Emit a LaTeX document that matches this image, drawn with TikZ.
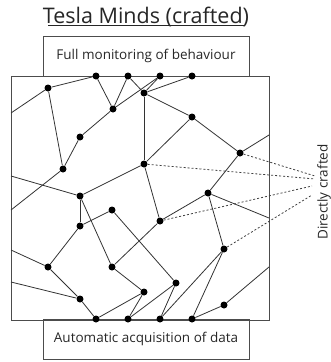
\documentclass[tikz,border=0pt]{standalone}
\usepackage{fontspec}
\setmainfont{Open Sans}
\begin{document}
\begin{tikzpicture}[x=1pt,y=-1pt,
  dot/.style={circle,fill=black,inner sep=0pt,minimum size=7pt},
  edge/.style={draw=black!80,line width=0.8pt},
  frame/.style={draw=black!70,line width=1pt},
  crafted/.style={draw=black!75,line width=0.8pt,dash pattern=on 2pt off 2pt},
  lbl/.style={font=\fontsize{13.5}{16}\selectfont,text=black!85}]
\useasboundingbox (0,0) rectangle (331,362);
% title
\node[font=\fontsize{21.5}{25}\selectfont,text=black!85,anchor=base,inner sep=0pt] (title) at (146,23) {Tesla Minds (crafted)};
\draw[black!85,line width=1pt] (48,25.5) -- (244,25.5);
% boxes
\node[frame,minimum width=206pt,minimum height=40pt,inner sep=0pt,lbl] (top) at (146,56) {Full monitoring of behaviour};
\node[frame,minimum width=206pt,minimum height=40pt,inner sep=0pt,lbl] (bot) at (146,339) {Automatic acquisition of data};
\draw[frame] (11,76) rectangle (269,320);
% border coordinates
\coordinate (l1) at (11,113);
\coordinate (l2) at (11,176);
\coordinate (l3) at (11,210);
\coordinate (l4) at (11,250);
\coordinate (l5) at (11,282);
\coordinate (r1) at (269,135);
\coordinate (r2) at (269,218);
\coordinate (r3) at (269,267);
% dots
\node[dot] (t1) at (96,76) {};
\node[dot] (t2) at (128,76) {};
\node[dot] (t3) at (160,76) {};
\node[dot] (t4) at (192,76) {};
\node[dot] (b1) at (96,319) {};
\node[dot] (b2) at (128,319) {};
\node[dot] (b3) at (160,319) {};
\node[dot] (b4) at (192,319) {};
\node[dot] (A) at (48,88) {};
\node[dot] (B) at (113,109) {};
\node[dot] (C) at (144,93) {};
\node[dot] (D) at (192,117) {};
\node[dot] (E) at (80,137) {};
\node[dot] (F) at (240,153) {};
\node[dot] (G) at (63,169) {};
\node[dot] (H) at (144,164) {};
\node[dot] (I) at (80,196) {};
\node[dot] (J) at (208,193) {};
\node[dot] (K) at (112,210) {};
\node[dot] (L) at (160,221) {};
\node[dot] (M) at (80,226) {};
\node[dot] (N) at (224,249) {};
\node[dot] (O) at (48,267) {};
\node[dot] (P) at (112,267) {};
\node[dot] (Q) at (176,283) {};
\node[dot] (R) at (144,292) {};
\node[dot] (S) at (80,299) {};
\node[dot] (T) at (224,305) {};
% edges
\draw[edge] (A) -- (t1);
\draw[edge] (A) -- (l1);
\draw[edge] (A) -- (G);
\draw[edge] (G) -- (E);
\draw[edge] (E) -- (B);
\draw[edge] (t1) -- (B);
\draw[edge] (t2) -- (B);
\draw[edge] (t3) -- (B);
\draw[edge] (t2) -- (C);
\draw[edge] (t3) -- (C);
\draw[edge] (t4) -- (C);
\draw[edge] (C) -- (H);
\draw[edge] (C) -- (D);
\draw[edge] (D) -- (H);
\draw[edge] (D) -- (F);
\draw[edge] (F) -- (r1);
\draw[edge] (F) -- (J);
\draw[edge] (H) -- (I);
\draw[edge] (H) -- (L);
\draw[edge] (G) -- (l3);
\draw[edge] (I) -- (l2);
\draw[edge] (I) -- (M);
\draw[edge] (I) -- (P);
\draw[edge] (M) -- (K);
\draw[edge] (K) -- (Q);
\draw[edge] (M) -- (O);
\draw[edge] (O) -- (l4);
\draw[edge] (O) -- (S);
\draw[edge] (S) -- (l5);
\draw[edge] (S) -- (b1);
\draw[edge] (b1) -- (R);
\draw[edge] (b2) -- (R);
\draw[edge] (b2) -- (Q);
\draw[edge] (b3) -- (Q);
\draw[edge] (b3) -- (N);
\draw[edge] (b4) -- (N);
\draw[edge] (b4) -- (T);
\draw[edge] (T) -- (r3);
\draw[edge] (P) -- (R);
\draw[edge] (P) -- (L);
\draw[edge] (L) -- (J);
\draw[edge] (J) -- (N);
\draw[edge] (J) -- (r2);
% directly crafted
\node[lbl,rotate=90] (dc) at (324,192) {Directly crafted};
\coordinate (d1) at (315,176);
\coordinate (d2) at (315,179);
\coordinate (d3) at (312,186);
\coordinate (d4) at (312,195);
\draw[crafted] (F) -- (d1);
\draw[crafted] (H) -- (d2);
\draw[crafted] (L) -- (d3);
\draw[crafted] (N) -- (d4);
\end{tikzpicture}
\end{document}
